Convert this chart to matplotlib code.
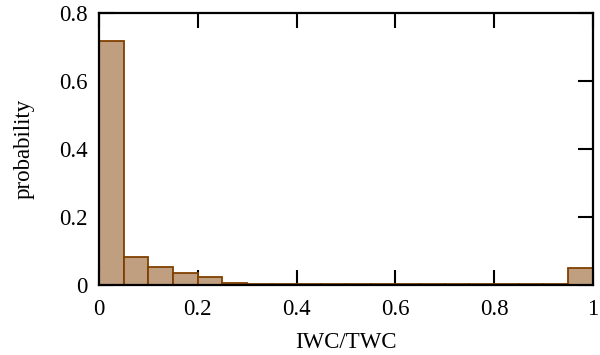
import matplotlib.pyplot as plt
import numpy as np

plt.rcParams['font.family'] = ['Liberation Serif', 'DejaVu Serif']

# histogram of IWC/TWC, 20 bins of width 0.05
bin_left = np.arange(0, 1.0, 0.05)
prob = [0.718, 0.083, 0.054, 0.036, 0.024, 0.007,
        0.002, 0.002, 0.002, 0.002, 0.002, 0.002, 0.002,
        0.002, 0.002, 0.002, 0.002, 0.002, 0.002, 0.049]
xticks = [0, 0.2, 0.4, 0.6, 0.8, 1]
yticks = [0, 0.2, 0.4, 0.6, 0.8]

fig = plt.figure(figsize=(6, 3.55), dpi=100)
ax = fig.add_axes([0.165, 0.197, 0.823, 0.766])

ax.bar(bin_left, prob, width=0.05, align='edge',
       color='#c09f80', edgecolor='#804000', linewidth=1.3)

ax.set_xlim(0, 1)
ax.set_ylim(0, 0.8)
ax.set_xticks(xticks)
ax.set_xticklabels(['0', '0.2', '0.4', '0.6', '0.8', '1'])
ax.set_yticks(yticks)
ax.set_yticklabels(['0', '0.2', '0.4', '0.6', '0.8'])
ax.set_axisbelow(True)
ax.tick_params(direction='in', length=11, width=1.5, top=True, right=True,
               labelsize=16.5)
ax.tick_params(axis='x', pad=10)
ax.tick_params(axis='y', pad=8)
for s in ax.spines.values():
    s.set_linewidth(1.6)

ax.set_xlabel('IWC/TWC', fontsize=16.5, labelpad=9)
ax.set_ylabel('probability', fontsize=16.5, labelpad=18)

fig.savefig('out.png')
